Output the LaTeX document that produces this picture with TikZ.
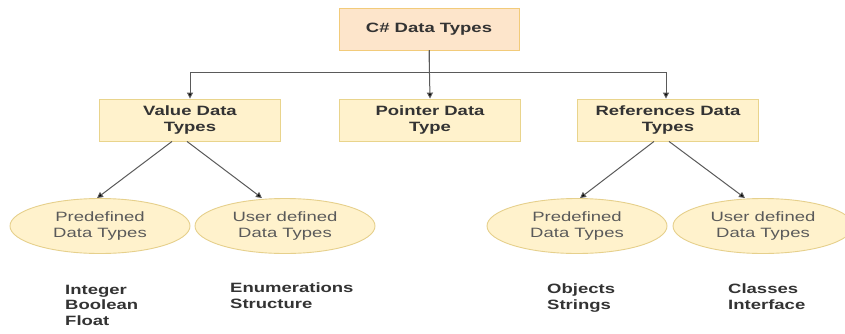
\documentclass[tikz,border=0pt]{standalone}
\usepackage{fontspec}
\setmainfont{Liberation Sans}
\newfontfamily\widefont[FakeStretch=1.37]{Liberation Sans}
\usetikzlibrary{arrows.meta,shapes.geometric}
\definecolor{topfill}{HTML}{FDE5CB}
\definecolor{topdraw}{HTML}{F2CB7A}
\definecolor{boxfill}{HTML}{FFF2CC}
\definecolor{boxdraw}{HTML}{E9D48C}
\definecolor{elldraw}{HTML}{E6D08C}
\definecolor{linec}{HTML}{5A5A5A}
\definecolor{txt}{HTML}{333333}
\definecolor{elltxt}{HTML}{5A5A5A}
\tikzset{
  topbox/.style={draw=topdraw,fill=topfill,line width=0.9pt,minimum width=180pt,minimum height=42pt,inner sep=0pt,font=\widefont\fontsize{13.5}{16}\selectfont\bfseries,text=txt,align=center},
  catbox/.style={draw=boxdraw,fill=boxfill,line width=0.9pt,minimum width=181pt,minimum height=42pt,inner sep=0pt,font=\widefont\fontsize{13.5}{16}\selectfont\bfseries,text=txt,align=center},
  ell/.style={ellipse,draw=elldraw,fill=boxfill,line width=0.9pt,minimum width=180pt,minimum height=55pt,inner sep=0pt,font=\widefont\fontsize{13.5}{16}\selectfont,text=elltxt,align=center},
  leaf/.style={anchor=north west,inner sep=0pt,font=\widefont\fontsize{13.5}{15.5}\selectfont\bfseries,text=txt,align=left},
  arr/.style={draw=linec,line width=1pt,-{Triangle[length=6pt,width=6pt,fill=black]}}
}
\begin{document}
\begin{tikzpicture}[x=1pt,y=-1pt]
\clip (0,0) rectangle (845,333);
\fill[white] (0,0) rectangle (845,333);
\node[topbox] (top) at (429,29) {C\# Data Types};
\node[catbox] (value) at (190,120) {Value Data\\Types};
\node[catbox] (pointer) at (430,120) {Pointer Data\\Type};
\node[catbox] (ref) at (668,120) {References Data\\Types};
\node[ell] (vp) at (100,226) {Predefined\\Data Types};
\node[ell] (vu) at (285,226) {User defined\\Data Types};
\node[ell] (rp) at (577,226) {Predefined\\Data Types};
\node[ell] (ru) at (763,226) {User defined\\Data Types};
\draw[arr] (top.south) -- ++(0,22) -| (value.north);
\draw[arr] (top.south) -- (pointer.north);
\draw[arr] (top.south) -- ++(0,22) -| ([xshift=-2pt]ref.north);
\draw[arr] ([xshift=-18pt]value.south) -- ([xshift=-3pt]vp.north);
\draw[arr] ([xshift=-3pt]value.south) -- ([xshift=-23pt]vu.north);
\draw[arr] ([xshift=-14pt]ref.south) -- ([xshift=3pt]rp.north);
\draw[arr] ([xshift=1pt]ref.south) -- ([xshift=-18pt]ru.north);
\node[leaf] (l1) at (65,285) {Integer\\Boolean\\Float};
\node[leaf] (l2) at (230,283) {Enumerations\\Structure};
\node[leaf] (l3) at (547,284) {Objects\\Strings};
\node[leaf] (l4) at (728,284) {Classes\\Interface};
\end{tikzpicture}
\end{document}
